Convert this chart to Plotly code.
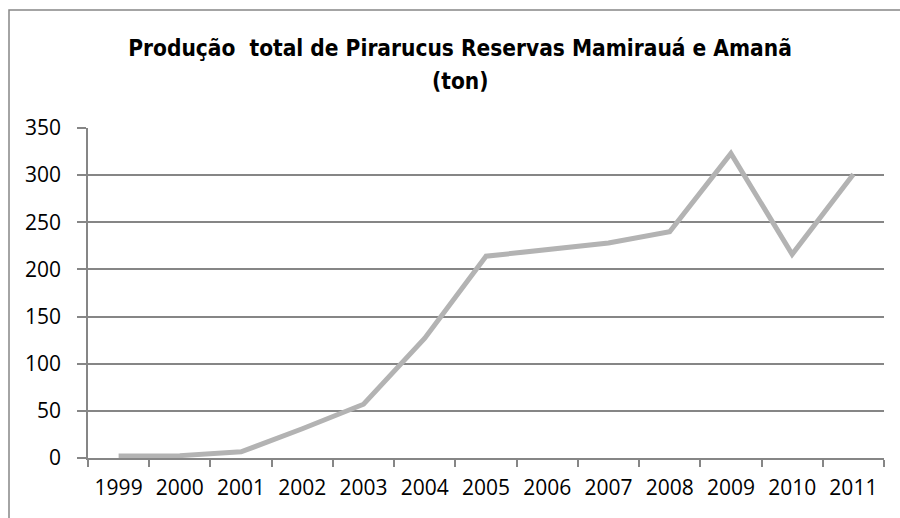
import plotly.graph_objects as go

years = ["1999", "2000", "2001", "2002", "2003", "2004", "2005",
         "2006", "2007", "2008", "2009", "2010", "2011"]
producao = [2, 2.5, 6.5, 31, 57, 127, 214, 221, 228, 240, 323, 216, 301]
y_ticks = [0, 50, 100, 150, 200, 250, 300, 350]

title_line1 = "Produção  total de Pirarucus Reservas Mamirauá e Amanã"
title_line2 = "(ton)"

fig = go.Figure()
fig.add_trace(go.Scatter(
    x=years, y=producao, mode="lines",
    line=dict(color="#B3B3B3", width=5),
    hoverinfo="x+y",
))

L, R, T, B = 88, 16, 128, 60
W, H = 900, 518
pw, ph = W - L - R, H - T - B
title_font = dict(family="DejaVu Sans Condensed, DejaVu Sans", size=22.5, color="black", weight="bold")

fig.update_layout(
    width=W, height=H,
    margin=dict(l=L, r=R, t=T, b=B, autoexpand=False),
    paper_bgcolor="white", plot_bgcolor="white",
    showlegend=False,
    title=dict(
        text=title_line1,
        x=460 / W, xanchor="center", xref="container",
        y=1 - 48.5 / H, yanchor="middle", yref="container",
        font=title_font,
    ),
    annotations=[dict(
        text=title_line2, showarrow=False,
        xref="paper", yref="paper",
        x=(460 - L) / pw, xanchor="center",
        y=1 + (T - 81) / ph, yanchor="middle",
        font=title_font,
    )],
    font=dict(family="Open Sans, Noto Sans, sans-serif", size=21, color="black"),
    xaxis=dict(
        type="category", range=[-0.5, 12.5], automargin=False,
        tickson="boundaries", ticks="outside", ticklen=7, tickwidth=1.5, tickcolor="#868686",
        showline=True, linecolor="#868686", linewidth=1.5,
        showgrid=False, zeroline=False, ticklabelstandoff=10,
        tickfont=dict(size=21),
    ),
    yaxis=dict(
        range=[0, 350], tickvals=y_ticks, automargin=False,
        ticks="outside", ticklen=9, tickwidth=1.5, tickcolor="#868686",
        showline=True, linecolor="#868686", linewidth=1.5,
        showgrid=True, gridcolor="#868686", gridwidth=1.5,
        zeroline=False, ticklabelstandoff=12,
        tickfont=dict(size=21),
    ),
    shapes=[dict(
        type="rect", xref="paper", yref="paper",
        x0=(9 - L) / pw, x1=1.5,
        y0=-1.0, y1=1 + (T - 10) / ph,
        line=dict(color="#868686", width=1.5),
        fillcolor="rgba(0,0,0,0)", layer="below",
    )],
)

fig.write_html(
    "out.html",
    config={"displayModeBar": False},
    post_script="document.body.style.margin='0';document.body.style.overflow='hidden';",
)
